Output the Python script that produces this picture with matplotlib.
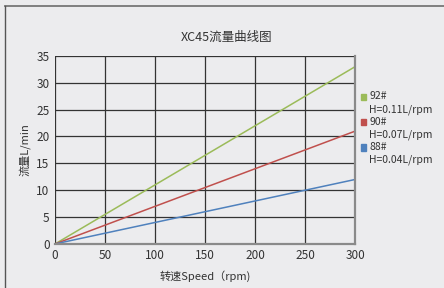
import numpy as np
import matplotlib
matplotlib.use('Agg')
from matplotlib import pyplot as plt
from matplotlib.lines import Line2D

plt.rcParams['font.family'] = ['Noto Sans CJK SC', 'DejaVu Sans']

# data
speed = [0, 300]
names = ['92#', '90#', '88#']
rates = [0.11, 0.07, 0.04]  # L/rpm
colors = ['#9bbb59', '#c0504d', '#4f81bd']
xticks = [0, 50, 100, 150, 200, 250, 300]
yticks = [0, 5, 10, 15, 20, 25, 30, 35]

bg = '#ececee'
fig = plt.figure(figsize=(4.44, 2.88), dpi=100, facecolor=bg)
ax = fig.add_axes([0.124, 0.153, 0.676, 0.653], facecolor=bg)

for n, r, c in zip(names, rates, colors):
    ax.plot(speed, [s * r for s in speed], color=c, lw=1.1)

ax.set_xlim(0, 300)
ax.set_ylim(0, 35)
ax.set_xticks(xticks)
ax.set_yticks(yticks)
ax.grid(True, color='#333333', lw=0.9)
ax.tick_params(length=0, labelsize=8.5, colors='#333333', pad=4)
for s in ['top', 'left']:
    ax.spines[s].set_visible(False)
for s in ['bottom', 'right']:
    ax.spines[s].set_color('#8a8a8a')
    ax.spines[s].set_linewidth(1.6)

ax.set_xlabel('转速Speed（rpm)', fontsize=8, color='#333333', labelpad=6)
ax.set_ylabel('流量L/min', fontsize=8, color='#333333', labelpad=4)
fig.text(0.51, 0.87, 'XC45流量曲线图', fontsize=9, color='#333333', ha='center', va='center')

# legend
y0 = 0.665
for i, (n, r, c) in enumerate(zip(names, rates, colors)):
    y = y0 - i * 0.088
    fig.patches.append(plt.Rectangle((0.812, y - 0.012), 0.012, 0.022, color=c,
                                     transform=fig.transFigure, figure=fig))
    fig.text(0.832, y, n, fontsize=7.5, color='#333333', va='center')
    fig.text(0.832, y - 0.045, 'H=%.2fL/rpm' % r, fontsize=7.5, color='#333333', va='center')

# outer frame (top and left)
fig.add_artist(Line2D([0.011, 1], [0.98, 0.98], color='#777777', lw=1.3))
fig.add_artist(Line2D([0.011, 0.011], [0, 0.98], color='#555555', lw=1.0))

fig.savefig('out.png', dpi=100, facecolor=bg)
